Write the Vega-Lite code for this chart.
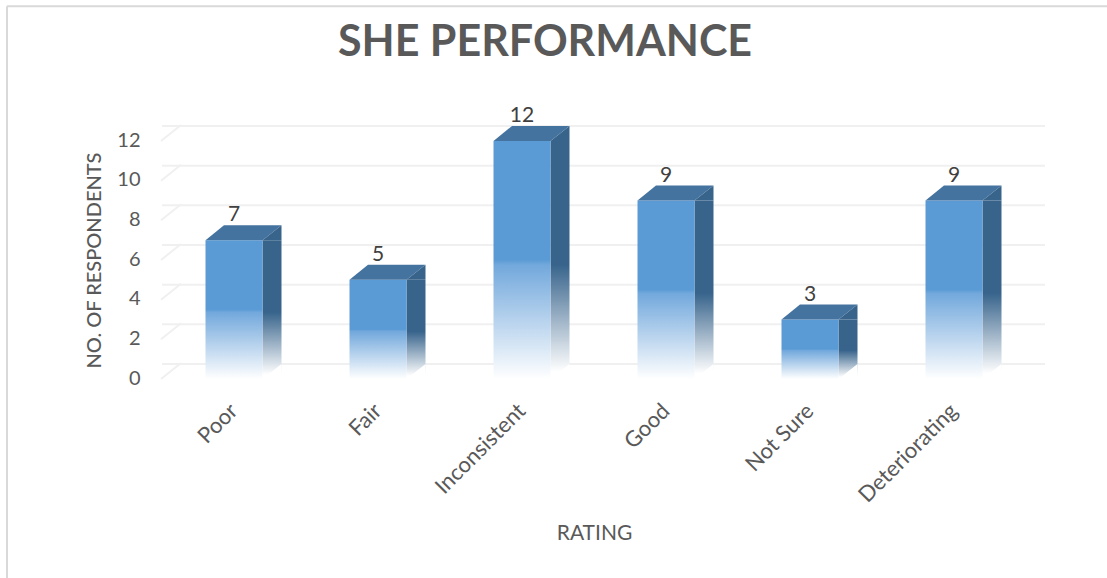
{
"$schema":"https://vega.github.io/schema/vega-lite/v6.json",
"width":864,"height":238,
"autosize":{"type":"none"},
"padding":{"left":162,"top":141,"right":81,"bottom":199},
"background":"white",
"title":{"text":"SHE PERFORMANCE","anchor":"middle","dx":-49,"dy":81,"offset":0,"baseline":"middle","font":"Lato","fontWeight":"bold","fontSize":43,"color":"#595959"},
"config":{"view":{"stroke":null},"font":"Lato"},
"data":{"values":[
{"rating":"Poor","respondents":7},
{"rating":"Fair","respondents":5},
{"rating":"Inconsistent","respondents":12},
{"rating":"Good","respondents":9},
{"rating":"Not Sure","respondents":3},
{"rating":"Deteriorating","respondents":9}
]},
"encoding":{
"x":{"type":"nominal","sort":null,"scale":{"paddingInner":0.604,"paddingOuter":0.302},
"axis":{"title":"RATING","titleFontSize":21,"titleFontWeight":"normal","titleColor":"#595959","titleX":432,"titleY":143,"labelAngle":-45,"labelAlign":"right","labelBaseline":"middle","labelFontSize":22,"labelColor":"#595959","labelPadding":28,"labelOverlap":false,"labelBound":false,"ticks":false,"domain":false,"labelFont":"Lato"}},
"y":{"type":"quantitative","scale":{"domain":[0,12],"nice":false},
"axis":{"title":"NO. OF RESPONDENTS","titleFontSize":20,"titleFontWeight":500,"titleColor":"#595959","titleX":-58,"labelFontSize":20,"labelColor":"#595959","labelPadding":22,"labelOverlap":false,"labelFlush":false,"ticks":false,"domain":false,"grid":false,"tickCount":7,"values":[0,2,4,6,8,10,12],"labelOffset":-1}}
},
"layer":[
{"data":{"values":[{"t":0},{"t":2},{"t":4},{"t":6},{"t":8},{"t":10},{"t":12}]},
"mark":{"type":"rule","color":"#f0f0f0","strokeWidth":2,"xOffset":19,"yOffset":-15},
"encoding":{"x":null,"y":{"field":"t"}}},
{"data":{"values":[{"t":0},{"t":2},{"t":4},{"t":6},{"t":8},{"t":10},{"t":12}]},
"mark":{"type":"point","shape":"M0,0L20,-16","size":4,"filled":false,"stroke":"#f0f0f0","strokeWidth":2,"opacity":1,"xOffset":-44.5},
"encoding":{"x":{"datum":"Poor","bandPosition":0},"y":{"field":"t"}}},
{"mark":{"type":"bar","width":19,"xOffset":38,"color":{"gradient":"linear","x1":0,"y1":0,"x2":0,"y2":1,"stops":[{"offset":0,"color":"#38648c"},{"offset":0.52,"color":"#38648c"},{"offset":0.97,"color":"#ffffff"},{"offset":1,"color":"#ffffff"}]}},
"encoding":{"x":{"field":"rating"},"y":{"field":"respondents"}}},
{"mark":{"type":"point","shape":"M28.5,0L47.5,-15L47.5,0Z","size":4,"filled":true,"color":"#ffffff","opacity":1},
"encoding":{"x":{"field":"rating"},"y":{"datum":0}}},
{"mark":{"type":"bar","width":57,"color":{"gradient":"linear","x1":0,"y1":0,"x2":0,"y2":1,"stops":[{"offset":0,"color":"#5b9bd5"},{"offset":0.5,"color":"#5b9bd5"},{"offset":0.52,"color":"#72a8dc"},{"offset":1,"color":"#ffffff"}]}},
"encoding":{"x":{"field":"rating"},"y":{"field":"respondents"}}},
{"mark":{"type":"point","shape":"M-28.5,0L-10,-15L47.5,-15L28.5,0Z","size":4,"filled":true,"color":"#44739f","opacity":1},
"encoding":{"x":{"field":"rating"},"y":{"field":"respondents"}}},
{"mark":{"type":"point","shape":"M28.5,0L47.5,-15L47.5,0Z","size":4,"filled":true,"color":"#38648c","opacity":1},
"encoding":{"x":{"field":"rating"},"y":{"field":"respondents"}}},
{"mark":{"type":"text","fontSize":21,"yOffset":-25,"baseline":"middle","color":"#404040"},
"encoding":{"x":{"field":"rating"},"y":{"field":"respondents"},"text":{"field":"respondents","type":"quantitative"}}},
{"data":{"values":[{"frame":"left"}]},
"mark":{"type":"rule","color":"#d9d9d9","strokeWidth":2,"xOffset":-227},
"encoding":{"x":{"datum":"Poor"},"y":{"datum":18.8},"y2":{"datum":-10.2}}},
{"data":{"values":[{"frame":"top"}]},
"mark":{"type":"rule","color":"#d9d9d9","strokeWidth":2,"xOffset":-227,"x2Offset":153},
"encoding":{"x":{"datum":"Poor"},"x2":{"datum":"Deteriorating"},"y":{"datum":18.8}}}
]
}
